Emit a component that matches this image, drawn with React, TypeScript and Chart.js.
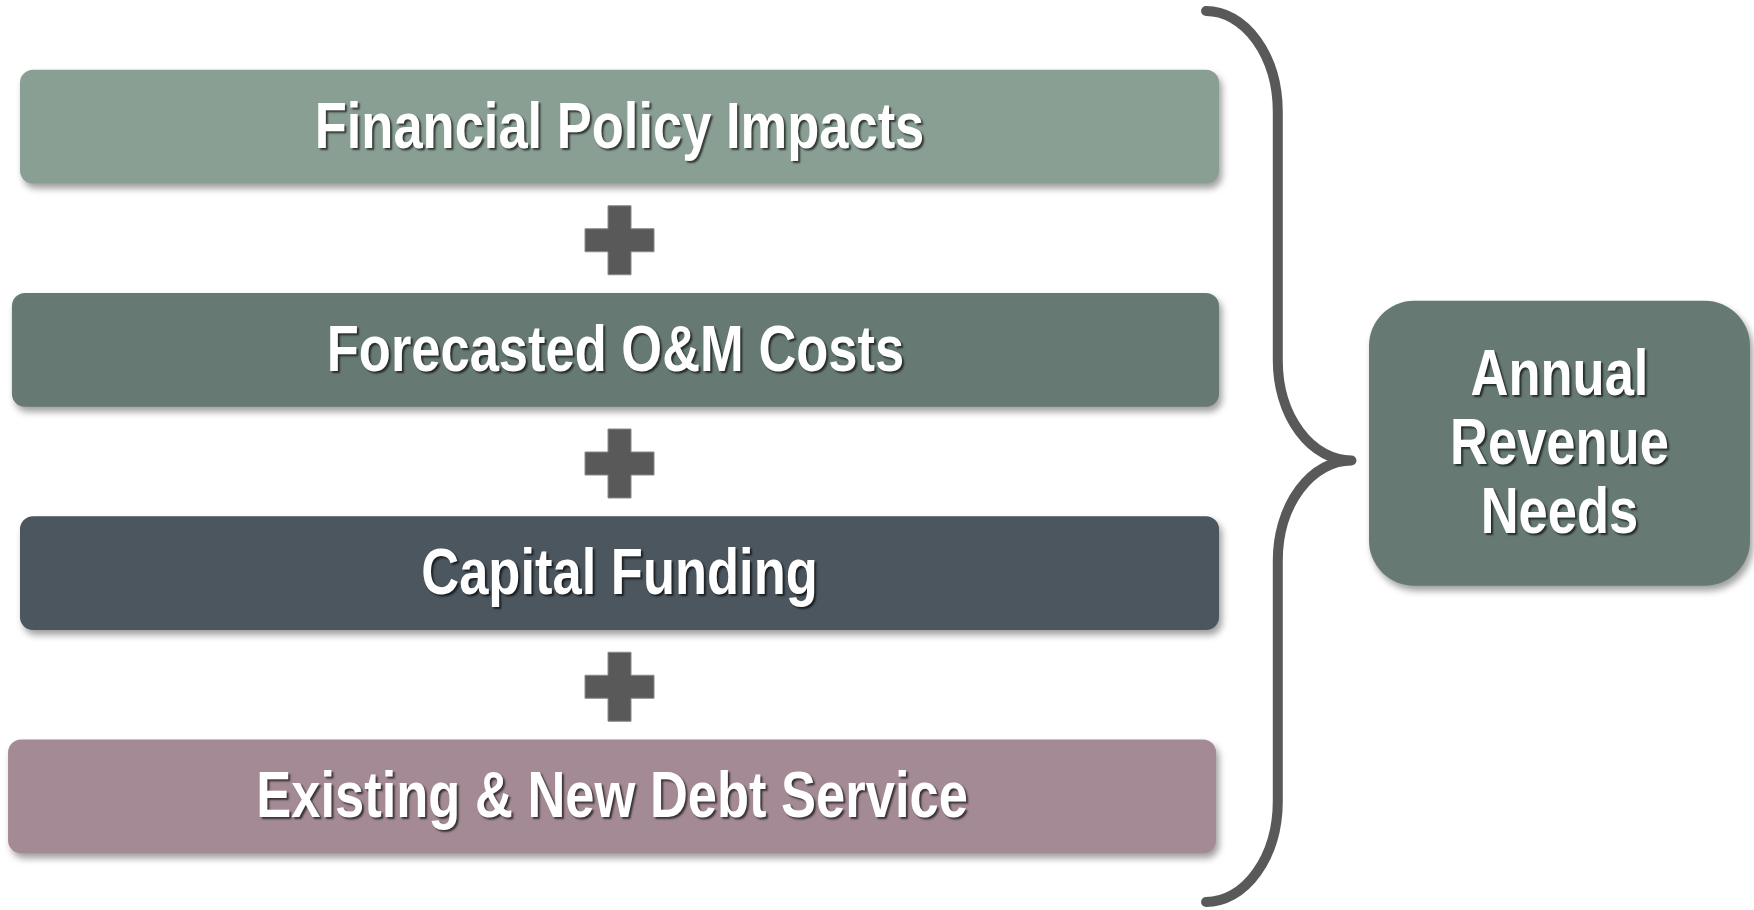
import React, { useEffect, useRef } from "react";
import { Chart, registerables } from "chart.js";

Chart.register(...registerables);

// ---- data ----
const categories = [
  "Financial Policy Impacts",
  "Forecasted O&M Costs",
  "Capital Funding",
  "Existing & New Debt Service",
];
const barStart = [1.14, 0.68, 1.14, 0.46];
const barEnd = [69.5, 69.5, 69.5, 69.33];
const barColors = ["#8A9F94", "#667A73", "#4B565E", "#A38A95"];
const resultLines = ["Annual", "Revenue", "Needs"];
const resultRange = [78.05, 99.77];
const resultColor = "#667A73";
const plusColor = "#595959";
const braceColor = "#595959";

const FONT = '"Liberation Sans", Arial, sans-serif';
const NARROW = 0.82;

function drawShadowText(ctx: CanvasRenderingContext2D, text: string, x: number, y: number) {
  ctx.save();
  ctx.font = `bold 64px ${FONT}`;
  ctx.textAlign = "center";
  ctx.textBaseline = "alphabetic";
  const w = ctx.measureText(text).width * NARROW;
  ctx.shadowColor = "rgba(0,0,0,0.65)";
  ctx.shadowOffsetX = 2;
  ctx.shadowOffsetY = 2;
  ctx.shadowBlur = 2;
  ctx.fillStyle = "#FFFFFF";
  ctx.fillText(text, x, y, w);
  ctx.restore();
}

const decorPlugin = {
  id: "decor",
  beforeDatasetsDraw(chart: any) {
    const ctx = chart.ctx;
    ctx.save();
    ctx.shadowColor = "rgba(0,0,0,0.38)";
    ctx.shadowOffsetX = 3;
    ctx.shadowOffsetY = 5;
    ctx.shadowBlur = 7;
  },
  afterDatasetsDraw(chart: any) {
    const ctx: CanvasRenderingContext2D = chart.ctx;
    ctx.restore();
    const xS = chart.scales.x;
    const yS = chart.scales.y;
    const meta = chart.getDatasetMeta(0);

    // bar labels
    meta.data.forEach((el: any, i: number) => {
      const cx = (el.x + el.base) / 2;
      drawShadowText(ctx, categories[i], cx, el.y + 21);
    });

    // plus signs between bars
    const pcx = xS.getPixelForValue((barStart[0] + barEnd[0]) / 2);
    for (let i = 0; i < categories.length - 1; i++) {
      const pcy = yS.getPixelForValue(i + 0.5) + 2;
      const half = 34.5;
      const arm = 11.5;
      ctx.save();
      ctx.fillStyle = plusColor;
      ctx.strokeStyle = "#8a8a8a";
      ctx.lineWidth = 1;
      ctx.beginPath();
      ctx.moveTo(pcx - arm, pcy - half);
      ctx.lineTo(pcx + arm, pcy - half);
      ctx.lineTo(pcx + arm, pcy - arm);
      ctx.lineTo(pcx + half, pcy - arm);
      ctx.lineTo(pcx + half, pcy + arm);
      ctx.lineTo(pcx + arm, pcy + arm);
      ctx.lineTo(pcx + arm, pcy + half);
      ctx.lineTo(pcx - arm, pcy + half);
      ctx.lineTo(pcx - arm, pcy + arm);
      ctx.lineTo(pcx - half, pcy + arm);
      ctx.lineTo(pcx - half, pcy - arm);
      ctx.lineTo(pcx - arm, pcy - arm);
      ctx.closePath();
      ctx.fill();
      ctx.stroke();
      ctx.restore();
    }

    // brace
    const xs = xS.getPixelForValue(68.76);
    const xv = xS.getPixelForValue(72.85);
    const xt = xS.getPixelForValue(77.05);
    const yTop = yS.getPixelForValue(-0.5) - 4;
    const yBot = yS.getPixelForValue(3.5) - 6;
    const yMid = yS.getPixelForValue(1.5) - 1;
    const ry = 101;
    const ry2 = 100;
    ctx.save();
    ctx.strokeStyle = braceColor;
    ctx.lineWidth = 10;
    ctx.lineCap = "round";
    ctx.lineJoin = "round";
    ctx.beginPath();
    ctx.moveTo(xs, yTop);
    ctx.ellipse(xs, yTop + ry, xv - xs, ry, 0, -Math.PI / 2, 0);
    ctx.lineTo(xv, yMid - ry2);
    ctx.ellipse(xt, yMid - ry2, xt - xv, ry2, 0, Math.PI, Math.PI / 2, true);
    ctx.ellipse(xt, yMid + ry2, xt - xv, ry2, 0, -Math.PI / 2, -Math.PI, true);
    ctx.lineTo(xv, yBot - ry);
    ctx.ellipse(xs, yBot - ry, xv - xs, ry, 0, 0, Math.PI / 2);
    ctx.stroke();
    ctx.restore();

    // result box
    const bx0 = xS.getPixelForValue(resultRange[0]);
    const bx1 = xS.getPixelForValue(resultRange[1]);
    const by0 = yS.getPixelForValue(0.78);
    const by1 = yS.getPixelForValue(2.056);
    ctx.save();
    ctx.shadowColor = "rgba(0,0,0,0.38)";
    ctx.shadowOffsetX = 3;
    ctx.shadowOffsetY = 5;
    ctx.shadowBlur = 7;
    ctx.fillStyle = resultColor;
    ctx.beginPath();
    (ctx as any).roundRect(bx0, by0, bx1 - bx0, by1 - by0, 45);
    ctx.fill();
    ctx.restore();
    const bcx = (bx0 + bx1) / 2;
    const bcy = (by0 + by1) / 2;
    const lh = 69;
    resultLines.forEach((t, i) => {
      drawShadowText(ctx, t, bcx, bcy + 21 + (i - 1) * lh);
    });
  },
};

export default function App() {
  const ref = useRef<HTMLCanvasElement>(null);
  useEffect(() => {
    if (!ref.current) return;
    const chart = new Chart(ref.current, {
      type: "bar",
      data: {
        labels: categories,
        datasets: [
          {
            data: categories.map((_, i) => [barStart[i], barEnd[i]]) as any,
            backgroundColor: barColors,
            borderRadius: 13,
            borderSkipped: false,
            barPercentage: 1,
            categoryPercentage: 0.51,
          },
        ],
      },
      options: {
        indexAxis: "y",
        responsive: false,
        animation: false,
        layout: { padding: { top: 15, bottom: 2, left: 0, right: 0 } },
        scales: {
          x: { min: 0, max: 100, display: false },
          y: { display: false },
        },
        plugins: {
          legend: { display: false },
          tooltip: { enabled: false },
        },
      },
      plugins: [decorPlugin],
    });
    return () => chart.destroy();
  }, []);
  return (
    <div style={{ position: "fixed", left: 0, top: 0, width: 1754, height: 910, background: "#ffffff" }}>
      <canvas ref={ref} width={1754} height={910} style={{ display: "block", width: 1754, height: 910 }} />
    </div>
  );
}
